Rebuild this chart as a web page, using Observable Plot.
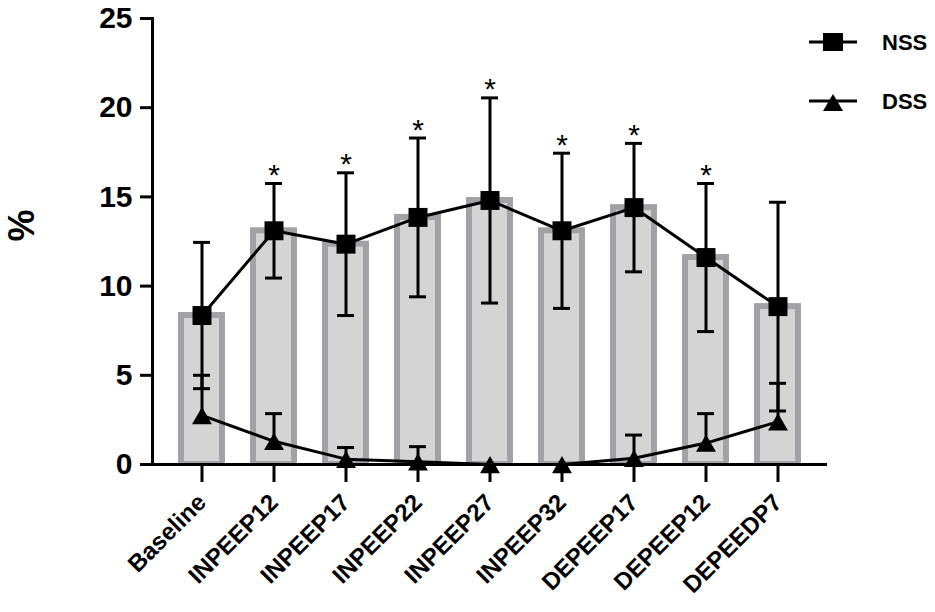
<!DOCTYPE html>
<html><head><meta charset="utf-8">
<script src="https://cdn.jsdelivr.net/npm/d3@7"></script>
<script src="https://cdn.jsdelivr.net/npm/@observablehq/plot@0.6"></script>
<style>
body{margin:0;background:#fff;font-family:"Liberation Sans",Arial,sans-serif;}
#wrap{position:relative;width:935px;height:612px;}
#legend{position:absolute;left:800px;top:20px;}
</style></head><body>
<div id="wrap"><div id="chart"></div>
<svg id="legend" width="135" height="100" font-family="Liberation Sans, Arial, sans-serif" font-weight="bold" font-size="22">
  <line x1="9" x2="57" y1="22" y2="22" stroke="black" stroke-width="3"/>
  <rect x="23" y="13" width="20" height="18" fill="black"/>
  <text x="82" y="22" dy="0.35em">NSS</text>
  <line x1="9" x2="57" y1="81" y2="81" stroke="black" stroke-width="3"/>
  <path d="M33,74L43,91L23,91Z" fill="black"/>
  <text x="82" y="81" dy="0.35em">DSS</text>
</svg>
</div>
<script>
const categories = ["Baseline","INPEEP12","INPEEP17","INPEEP22","INPEEP27","INPEEP32","DEPEEP17","DEPEEP12","DEPEEDP7"];
const nssMean = [8.35, 13.1, 12.35, 13.85, 14.8, 13.1, 14.4, 11.6, 8.85];
const nssSD   = [4.1, 2.65, 4.0, 4.45, 5.75, 4.35, 3.6, 4.15, 5.85];
const dssMean = [2.75, 1.3, 0.3, 0.15, 0, 0, 0.35, 1.2, 2.4];
const dssSD   = [2.25, 1.55, 0.65, 0.85, 0, 0, 1.3, 1.65, 2.15];
const significant = [false, true, true, true, true, true, true, true, false];
const yTicks = [0, 5, 10, 15, 20, 25];

const data = categories.map((c, i) => ({
  cat: c, nss: nssMean[i], nssSD: nssSD[i], dss: dssMean[i], dssSD: dssSD[i], sig: significant[i]
}));
const dssErr = data.filter(d => d.dssSD > 0);

const chart = Plot.plot({
  width: 935, height: 612,
  marginLeft: 152, marginRight: 108, marginTop: 18, marginBottom: 148,
  style: {fontFamily: "Liberation Sans, Arial, sans-serif", background: "white", overflow: "visible", color: "black"},
  x: {domain: categories, paddingInner: 0.435, paddingOuter: 0.372, label: null},
  y: {domain: [0, 25], label: null},
  marks: [
    Plot.barY(data, {x: "cat", y: "nss", fill: "#d4d4d4", stroke: "#a2a2a6", strokeWidth: 6, clip: "frame"}),
    // DSS error bars (upper only)
    Plot.ruleX(dssErr, {x: "cat", y1: "dss", y2: d => d.dss + d.dssSD, stroke: "black", strokeWidth: 3}),
    Plot.tickY(dssErr, {x: "cat", y: d => d.dss + d.dssSD, stroke: "black", strokeWidth: 3, insetLeft: 12, insetRight: 12}),
    // NSS error bars
    Plot.ruleX(data, {x: "cat", y1: d => d.nss - d.nssSD, y2: d => d.nss + d.nssSD, stroke: "black", strokeWidth: 3}),
    Plot.tickY(data, {x: "cat", y: d => d.nss + d.nssSD, stroke: "black", strokeWidth: 3, insetLeft: 12, insetRight: 12}),
    Plot.tickY(data, {x: "cat", y: d => d.nss - d.nssSD, stroke: "black", strokeWidth: 3, insetLeft: 12, insetRight: 12}),
    Plot.ruleY([0], {stroke: "black", strokeWidth: 3}),
    Plot.frame({anchor: "left", stroke: "black", strokeWidth: 3}),
    Plot.axisY({ticks: yTicks, tickSize: 12, tickPadding: 8, fontSize: 30, fontWeight: "bold", strokeWidth: 3, label: null}),
    Plot.axisX({tickSize: 18, tickPadding: 16, tickRotate: -45, fontSize: 24, fontWeight: "bold", strokeWidth: 3, label: null}),
    Plot.line(data, {x: "cat", y: "nss", stroke: "black", strokeWidth: 3}),
    Plot.line(data, {x: "cat", y: "dss", stroke: "black", strokeWidth: 3}),
    Plot.dot(data, {x: "cat", y: "nss", symbol: "square", r: 10.7, fill: "black", stroke: "none"}),
    Plot.dot(data, {x: "cat", y: "dss", symbol: "triangle", r: 7.4, dy: 3, fill: "black", stroke: "none"}),
    Plot.text(data.filter(d => d.sig), {x: "cat", y: d => d.nss + d.nssSD, text: () => "*", dy: -8, fontSize: 30, fill: "black"}),
    Plot.text(["%"], {frameAnchor: "left", dx: -130, rotate: -90, fontSize: 36, fontWeight: "bold", fill: "black"})
  ]
});
document.getElementById("chart").appendChild(chart);
</script>
</body></html>
